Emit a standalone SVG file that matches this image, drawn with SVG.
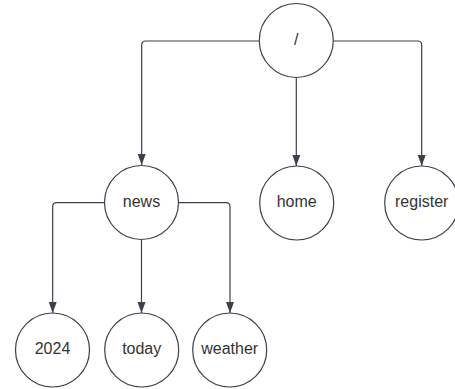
<svg xmlns="http://www.w3.org/2000/svg" width="455" height="389" viewBox="0 0 455 389">
<style>
.node circle{fill:#fff;stroke:#3a414a;stroke-width:1.2}
.node text{font-family:"Liberation Sans",Arial,sans-serif;font-size:16px;fill:#333;text-anchor:middle;dominant-baseline:central}
.edge{fill:none;stroke:#3a414a;stroke-width:1.2;marker-end:url(#arr)}
</style>
<defs>
<marker id="arr" viewBox="0 0 11 10" refX="11" refY="5" markerWidth="11" markerHeight="10" markerUnits="userSpaceOnUse" orient="auto">
<path d="M0,1 L11,5 L0,9 Z" fill="#3a414a"/>
</marker>
</defs>
<g id="connectors">
<path class="edge" d="M259.3,41 H145.7 Q141.7,41 141.7,45 V165"/>
<path class="edge" d="M296.3,77.5 V166"/>
<path class="edge" d="M333.3,41 H417.7 Q421.7,41 421.7,45 V166"/>
<path class="edge" d="M104.5,202.7 H56.7 Q52.7,202.7 52.7,206.7 V313"/>
<path class="edge" d="M141.5,240 V313"/>
<path class="edge" d="M178.5,202.7 H226 Q230,202.7 230,206.7 V313"/>
</g>
<g id="root" class="node"><circle cx="296.3" cy="40.5" r="37"/><text x="296.3" y="39.5">/</text></g>
<g id="news" class="node"><circle cx="141.5" cy="202.5" r="37"/><text x="141.5" y="201">news</text></g>
<g id="home" class="node"><circle cx="296.7" cy="203" r="37"/><text x="296.7" y="201">home</text></g>
<g id="register" class="node"><circle cx="421.7" cy="203" r="37"/><text x="421.7" y="201">register</text></g>
<g id="n2024" class="node"><circle cx="52.5" cy="350" r="37"/><text x="52.5" y="348.5">2024</text></g>
<g id="today" class="node"><circle cx="141.7" cy="350" r="37"/><text x="141.7" y="348.5">today</text></g>
<g id="weather" class="node"><circle cx="229.7" cy="350" r="37"/><text x="229.7" y="348.5">weather</text></g>
</svg>
